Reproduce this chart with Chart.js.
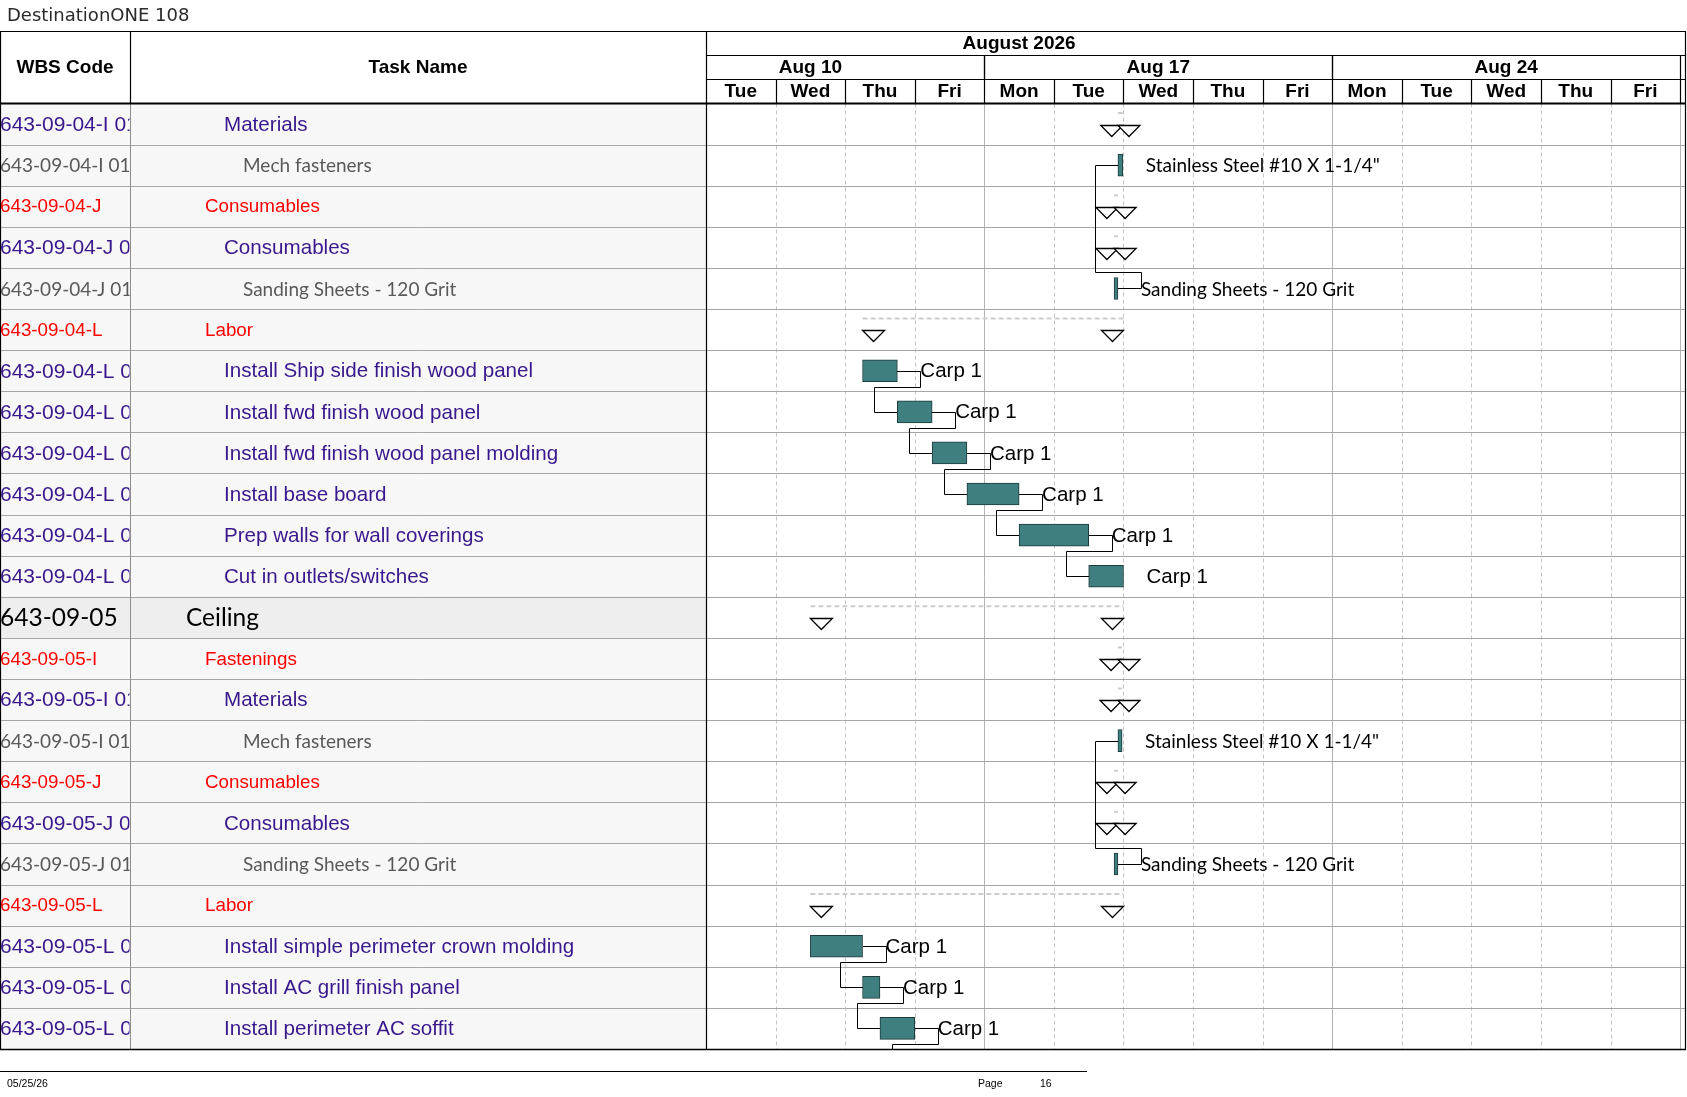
<!DOCTYPE html>
<html><head><meta charset="utf-8">
<script src="https://cdn.jsdelivr.net/npm/chart.js@4.4.1/dist/chart.umd.min.js"></script>
<style>html,body{margin:0;padding:0;background:#fff;overflow:hidden}canvas{display:block}</style>
</head><body>
<canvas id="c" width="1687" height="1097"></canvas>
<script>
// ---------------- data ----------------
const wbsCodes = [
  '643-09-04-I 01','643-09-04-I 01-01','643-09-04-J','643-09-04-J 01','643-09-04-J 01-01','643-09-04-L',
  '643-09-04-L 01','643-09-04-L 02','643-09-04-L 03','643-09-04-L 04','643-09-04-L 05','643-09-04-L 06',
  '643-09-05','643-09-05-I','643-09-05-I 01','643-09-05-I 01-01','643-09-05-J','643-09-05-J 01',
  '643-09-05-J 01-01','643-09-05-L','643-09-05-L 01','643-09-05-L 02','643-09-05-L 03'
];
const taskNames = [
  'Materials','Mech fasteners','Consumables','Consumables','Sanding Sheets - 120 Grit','Labor',
  'Install Ship side finish wood panel','Install fwd finish wood panel','Install fwd finish wood panel molding',
  'Install base board','Prep walls for wall coverings','Cut in outlets/switches',
  'Ceiling','Fastenings','Materials','Mech fasteners','Consumables','Consumables','Sanding Sheets - 120 Grit',
  'Labor','Install simple perimeter crown molding','Install AC grill finish panel','Install perimeter AC soffit'
];
const outlineLevels = [5,6,4,5,6,4,5,5,5,5,5,5,3,4,5,6,4,5,6,4,5,5,5];
// working-day index, 0 = start of Tue Aug 11 2026
const taskStarts = [null,5.92,null,null,5.865,null,2.25,2.75,3.25,3.75,4.5,5.5,null,null,null,5.92,null,null,5.865,null,1.5,2.25,2.5];
const taskEnds   = [null,5.99,null,null,5.92,null,2.75,3.25,3.75,4.5,5.5,6.0,null,null,null,5.98,null,null,5.92,null,2.25,2.5,3.0];
const summaryStarts = [5.92,null,5.865,5.865,null,2.25,null,null,null,null,null,null,1.5,5.92,5.92,null,5.865,5.865,null,1.5,null,null,null];
const summaryEnds   = [5.99,null,5.92,5.92,null,6.0,null,null,null,null,null,null,6.0,5.98,5.98,null,5.92,5.92,null,6.0,null,null,null];
const resourceNames = ['','Stainless Steel #10 X 1-1/4"','','','Sanding Sheets - 120 Grit','',
  'Carp 1','Carp 1','Carp 1','Carp 1','Carp 1','Carp 1',
  '','','','Stainless Steel #10 X 1-1/4"','','','Sanding Sheets - 120 Grit','',
  'Carp 1','Carp 1','Carp 1'];
const linkFrom = [4,6,7,8,9,10,18,20,21,22];
const linkTo   = [1,7,8,9,10,11,15,21,22,23];
const dayLabels = ['Tue','Wed','Thu','Fri','Mon','Tue','Wed','Thu','Fri','Mon','Tue','Wed','Thu','Fri'];
const weekLabels = ['Aug 10','Aug 17','Aug 24'];
const weekStarts = [-1,4,9];
const monthLabel = 'August 2026';
const monthLabelCenter = 4.5;
const timelineEnd = 14.07;
const titleText = 'DestinationONE 108';
const footerDate = '05/25/26';
const pageNumber = '16';

// ---------------- drawing ----------------
const COLW = 130, TBLR = 706, RIGHT = 1685, TOP = 31, HB = 103.5, BOT = 1049;
const levelColor = {3:'#000000',4:'#ff0000',5:'#38188c',6:'#595959'};
const wbsFont = {3:"24.5px Lato",4:"18.8px 'Liberation Sans', Arial",5:"21px 'Liberation Sans', Arial",6:"19px Lato"};
const nameFont = {3:"24.5px Lato",4:"18.8px 'Liberation Sans', Arial",5:"20.6px 'Liberation Sans', Arial",6:"19px Lato"};
const levelIndent = l => 186 + (l-3)*19;
const h = v => Math.round(v)+0.5;

function line(ctx,x1,y1,x2,y2,color,w,dash){
  ctx.save();ctx.strokeStyle=color;ctx.lineWidth=w||1;ctx.setLineDash(dash||[]);
  ctx.beginPath();ctx.moveTo(x1,y1);ctx.lineTo(x2,y2);ctx.stroke();ctx.restore();
}

const ganttPlugin = {
  id:'gantt',
  beforeDatasetsDraw(chart){
    const ctx=chart.ctx, x=chart.scales.x, y=chart.scales.y, ca=chart.chartArea;
    const band=y.getPixelForValue(1)-y.getPixelForValue(0);
    ctx.save();
    ctx.fillStyle='#fff';ctx.fillRect(0,0,chart.width,chart.height);
    taskNames.forEach((t,i)=>{
      const top=y.getPixelForValue(i)-band/2;
      ctx.fillStyle = outlineLevels[i]===3 ? '#eeeeee' : '#f7f7f7';
      ctx.fillRect(0,top,TBLR,band);
    });
    for(let v=1; v<=Math.floor(timelineEnd); v++){
      const px=h(x.getPixelForValue(v));
      const isWeek = weekStarts.some(w=>w===v||w+5===v);
      if(isWeek) line(ctx,px,ca.top,px,ca.bottom,'#b4b4b4',1);
      else line(ctx,px,ca.top,px,ca.bottom,'#c4c4c4',1,[4,3]);
    }
    for(let i=1;i<taskNames.length;i++){
      const yy=h(y.getPixelForValue(i)-band/2);
      line(ctx,0,yy,RIGHT,yy,'#a6a6a6',1);
    }
    summaryStarts.forEach((s,i)=>{
      if(s===null) return;
      const top=y.getPixelForValue(i)-band/2;
      line(ctx,x.getPixelForValue(s),top+9.5,x.getPixelForValue(summaryEnds[i]),top+9.5,'#cdcdcd',2,[5,3]);
    });
    ctx.restore();
  },
  afterDatasetsDraw(chart){
    const ctx=chart.ctx, x=chart.scales.x, y=chart.scales.y, ca=chart.chartArea;
    const band=y.getPixelForValue(1)-y.getPixelForValue(0);
    ctx.save();
    ctx.save();
    ctx.beginPath();ctx.rect(ca.left,ca.top,ca.right-ca.left,ca.bottom-ca.top);ctx.clip();
    ctx.strokeStyle='#000';ctx.lineWidth=1;
    linkFrom.forEach((f,k)=>{
      const t=linkTo[k];
      const xe=x.getPixelForValue(taskEnds[f]), yf=y.getPixelForValue(f);
      const sv = (t<taskStarts.length && taskStarts[t]!==null) ? taskStarts[t] : taskEnds[f];
      const xs=x.getPixelForValue(sv), yt=y.getPixelForValue(t);
      const dir = yt>yf?1:-1, ym=yf+dir*16;
      ctx.beginPath();
      ctx.moveTo(Math.round(xe),h(yf));ctx.lineTo(h(xe+23),h(yf));ctx.lineTo(h(xe+23),h(ym));
      ctx.lineTo(h(xs-23),h(ym));ctx.lineTo(h(xs-23),h(yt));ctx.lineTo(Math.round(xs),h(yt));
      ctx.stroke();
    });
    ctx.fillStyle='#fff';ctx.strokeStyle='#000';ctx.lineWidth=1.3;
    const tri=(x0,top)=>{ctx.beginPath();ctx.moveTo(x0,top);ctx.lineTo(x0+22,top);ctx.lineTo(x0+11,top+11);ctx.closePath();ctx.fill();ctx.stroke();};
    summaryStarts.forEach((s,i)=>{
      if(s===null) return;
      const top=Math.round(y.getPixelForValue(i)-band/2+21)+0.5;
      tri(x.getPixelForValue(summaryEnds[i])-22,top);
      tri(x.getPixelForValue(s),top);
    });
    ctx.textBaseline='middle';ctx.fillStyle='#000';
    resourceNames.forEach((r,i)=>{
      if(!r||taskEnds[i]===null) return;
      ctx.font = outlineLevels[i]===6 ? "19px Lato" : "20.5px 'Liberation Sans', Arial";
      ctx.fillText(r,x.getPixelForValue(taskEnds[i])+23,y.getPixelForValue(i)+1);
    });
    ctx.restore();

    taskNames.forEach((t,i)=>{
      const cy=y.getPixelForValue(i), top=cy-band/2, l=outlineLevels[i];
      ctx.fillStyle=levelColor[l];ctx.textBaseline='middle';ctx.textAlign='left';
      ctx.font=wbsFont[l];
      ctx.save();ctx.beginPath();ctx.rect(0,top,COLW-0.5,band);ctx.clip();
      ctx.fillText(wbsCodes[i],0,cy+1);ctx.restore();
      ctx.font=nameFont[l];
      ctx.save();ctx.beginPath();ctx.rect(COLW+1,top,TBLR-COLW-2,band);ctx.clip();
      ctx.fillText(t,levelIndent(l),cy+1);ctx.restore();
    });
    ctx.fillStyle='#fff';ctx.fillRect(0,TOP,RIGHT,HB-TOP);
    ctx.fillStyle='#000';ctx.textAlign='center';ctx.textBaseline='middle';
    ctx.font="bold 19px 'Liberation Sans', Arial";
    ctx.fillText('WBS Code',COLW/2,67.5);
    ctx.fillText('Task Name',(COLW+TBLR)/2,67.5);
    ctx.save();ctx.beginPath();ctx.rect(TBLR,TOP,RIGHT-TBLR,HB-TOP);ctx.clip();
    ctx.fillText(monthLabel,x.getPixelForValue(monthLabelCenter),43.5);
    weekLabels.forEach((w,k)=>ctx.fillText(w,x.getPixelForValue(weekStarts[k]+2.5),67.5));
    dayLabels.forEach((d,k)=>ctx.fillText(d,x.getPixelForValue(k+0.5),91.5));
    ctx.restore();
    line(ctx,0,h(TOP),RIGHT+1,h(TOP),'#000',1.2);
    line(ctx,TBLR,h(55),RIGHT,h(55),'#000',1.2);
    line(ctx,TBLR,h(79),RIGHT,h(79),'#000',1.2);
    weekStarts.forEach(w=>{
      [w,w+5].forEach(v=>{ if(v>0&&v<=timelineEnd){const px=h(x.getPixelForValue(v));line(ctx,px,55,px,79,'#000',1.2);} });
    });
    for(let v=1;v<=Math.floor(timelineEnd);v++){const px=h(x.getPixelForValue(v));line(ctx,px,79,px,HB,'#000',1.2);}
    line(ctx,h(COLW),TOP,h(COLW),HB,'#000',1.2);
    line(ctx,h(COLW),HB,h(COLW),BOT,'#8c8c8c',1);
    line(ctx,0,HB,RIGHT+1,HB,'#000',2);
    line(ctx,0.5,TOP,0.5,BOT,'#000',1.2);
    line(ctx,h(TBLR),TOP,h(TBLR),BOT,'#000',1.2);
    line(ctx,h(RIGHT),TOP,h(RIGHT),BOT,'#000',1.2);
    line(ctx,0,h(BOT),RIGHT+1,h(BOT),'#000',1.3);
    ctx.textAlign='left';ctx.textBaseline='alphabetic';ctx.fillStyle='#2a2a2a';
    ctx.font="18px 'DejaVu Sans'";ctx.fillText(titleText,7,21);
    line(ctx,0,h(1071),1087,h(1071),'#000',1.2);
    ctx.fillStyle='#000';ctx.textBaseline='middle';ctx.font="10.5px 'Liberation Sans', Arial";
    ctx.fillText(footerDate,7,1084);
    ctx.fillText('Page',978,1084);
    ctx.fillText(pageNumber,1040,1084);
    ctx.restore();
  }
};

new Chart(document.getElementById('c'),{
  type:'bar',
  data:{
    labels:taskNames,
    datasets:[{
      data:taskStarts.map((s,i)=>s===null?null:[s,taskEnds[i]]),
      backgroundColor:'#407f80',borderColor:'#1c3b3c',borderWidth:1,borderSkipped:false,
      barThickness:22,grouped:false
    }]
  },
  options:{
    indexAxis:'y',responsive:false,animation:false,devicePixelRatio:1,events:[],
    layout:{padding:{left:TBLR,right:1687-RIGHT,top:HB,bottom:1097-BOT}},
    scales:{
      x:{type:'linear',min:0,max:timelineEnd,display:false},
      y:{type:'category',display:false,offset:true}
    },
    plugins:{legend:{display:false},tooltip:{enabled:false}}
  },
  plugins:[ganttPlugin]
});
</script>
</body></html>
